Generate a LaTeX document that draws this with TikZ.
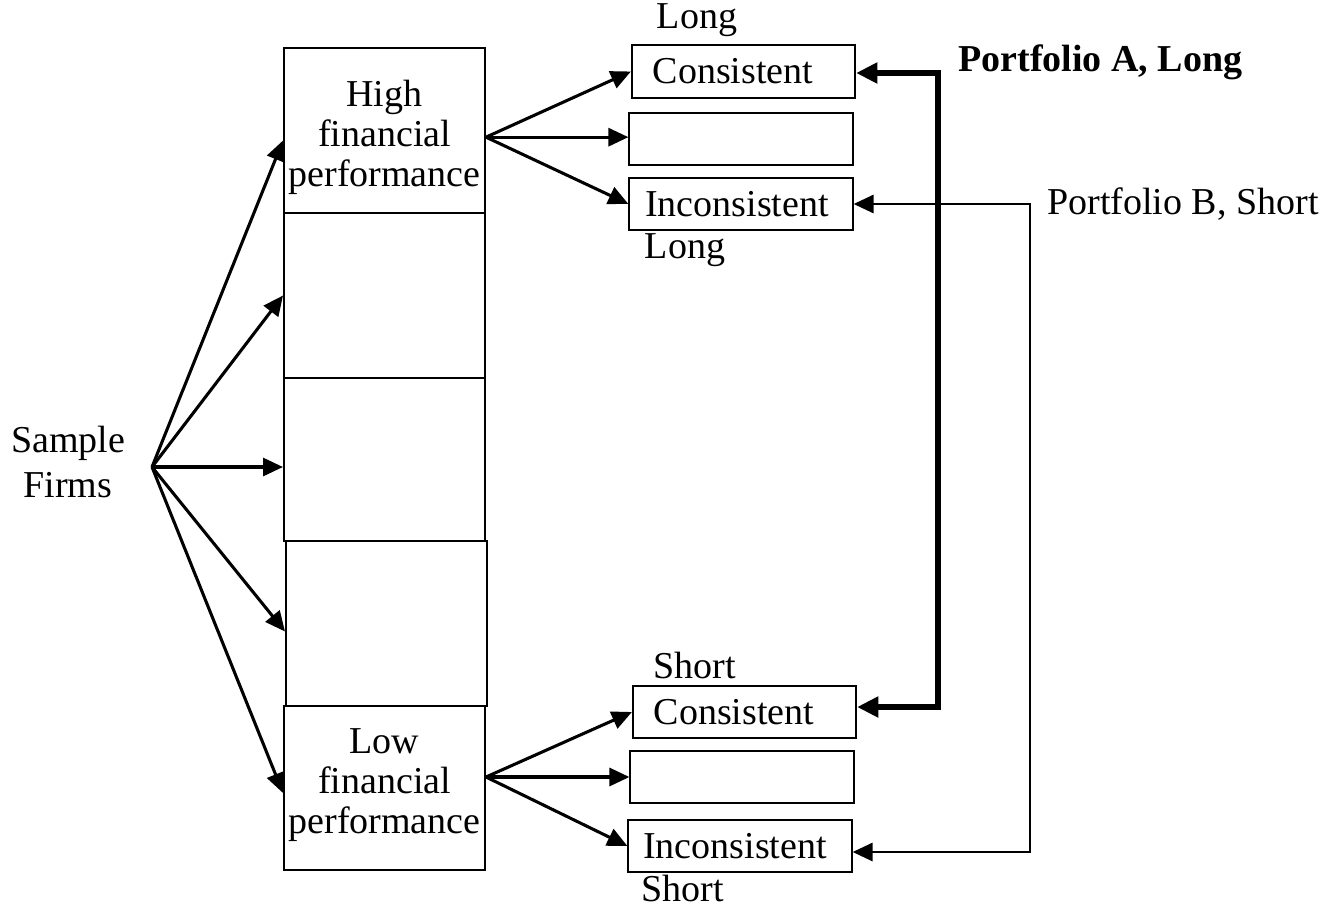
\documentclass[tikz,border=0pt]{standalone}
\usepackage{fontspec}
\setmainfont{Liberation Serif}
\usetikzlibrary{arrows.meta}
\begin{document}
\begin{tikzpicture}[x=0.75pt,y=-0.75pt,
  every node/.style={font=\fontsize{28.5}{30}\selectfont, inner sep=0pt},
  cell/.style={draw, line width=1.5pt, minimum width=150.75pt, align=center},
  outbox/.style={draw, line width=1.4pt, minimum width=167.5pt, minimum height=39.5pt},
  arr/.style={line width=2.3pt, -{Triangle[length=15pt,width=13.5pt]}},
  bigarr/.style={line width=4.6pt, line join=miter, {Triangle[length=16pt,width=15pt]}-{Triangle[length=16pt,width=15pt]}},
  thinarr/.style={line width=2.2pt, line join=miter, {Triangle[length=15pt,width=13.5pt]}-{Triangle[length=15pt,width=13.5pt]}}
]
\useasboundingbox (0,0) rectangle (1323,907);

% left column
\node[cell, minimum height=123.75pt] (hi) at (384.5,130.5) {};
\node[align=center] (hit) at (384.5,137) {High\\financial\\performance};
\node[cell, minimum height=123.75pt] (b2) at (384.5,295.5) {};
\node[cell, minimum height=122.25pt] (b3) at (384.5,459.5) {};
\node[cell, minimum height=123.75pt] (b4) at (386.5,623.5) {};
\node[cell, minimum height=123pt] (lo) at (384.5,788) {};
\node[align=center] (lot) at (384.5,785) {Low\\financial\\performance};

\node[align=center, font=\fontsize{28.5}{34}\selectfont] (sfl) at (68,462) {Sample\\Firms};
\coordinate (sf) at (152,467);

\draw[arr] (sf) -- ([yshift=-7.5pt]hi.west);
\draw[arr] (sf) -- (b2.west);
\draw[arr] (sf) -- (sf -| b3.west);
\draw[arr] (sf) -- ([yshift=-6pt]b4.west);
\draw[arr] (sf) -- ([yshift=-3.75pt]lo.west);

% right top boxes
\node[outbox] (c1) at (743.5,71.5) {};
\node (c1t) at (733,71.5) {Consistent};
\node[outbox] (e1) at (741,139) {};
\node[outbox] (i1) at (741,204) {};
\node (i1t) at (737,204) {Inconsistent};
\node (l1) at (697,20) {Long};
\node (l2) at (685,250) {Long};

% right bottom boxes
\node[outbox] (c2) at (744.5,712) {};
\node (c2t) at (734,712) {Consistent};
\node[outbox] (e2) at (742,777) {};
\node[outbox] (i2) at (740,846) {};
\node (i2t) at (735,846) {Inconsistent};
\node (s1) at (695,665) {Short};
\node (s2) at (683,888) {Short};

% arrows from performance boxes
\coordinate (hsrc) at ([yshift=-5pt]hi.east);
\draw[arr] (hsrc) -- (c1.west);
\draw[arr] (hsrc) -- (hsrc -| e1.west);
\draw[arr] (hsrc) -- (i1.west);
\coordinate (lsrc) at ([yshift=8.25pt]lo.east);
\draw[arr] (lsrc) -- (c2.west);
\draw[arr] (lsrc) -- (lsrc -| e2.west);
\draw[arr] (lsrc) -- (i2.west);

% portfolio A
\coordinate (pa1) at (938,73);
\coordinate (pa2) at (938,707);
\draw[bigarr] (pa1 -| c1.east) -- (pa1) -- (pa2) -- (pa2 -| c2.east);
\node[anchor=west, font=\fontsize{28.5}{30}\selectfont\bfseries] (pA) at (958,62) {Portfolio A, Long};

% portfolio B
\coordinate (pb1) at (1030,204);
\coordinate (pb2) at (1030,852);
\draw[thinarr] (pb1 -| i1.east) -- (pb1) -- (pb2) -- (pb2 -| i2.east);
\node[anchor=west] (pB) at (1047,204) {Portfolio B, Short};
\end{tikzpicture}
\end{document}
